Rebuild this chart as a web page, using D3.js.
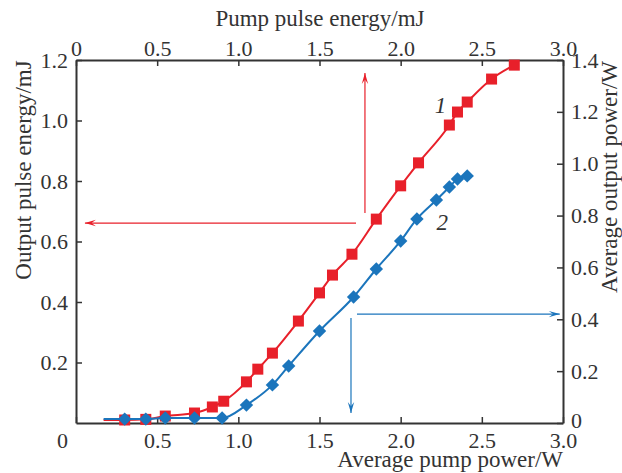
<!DOCTYPE html>
<html>
<head>
<meta charset="utf-8">
<script src="https://cdn.jsdelivr.net/npm/d3@7"></script>
<style>
  html, body { margin: 0; padding: 0; background: #fff; }
  svg text { font-family: "Liberation Serif", "DejaVu Serif", serif; fill: #333; }
</style>
</head>
<body>
<svg id="chart" width="622" height="473"></svg>
<script>
// Pump power / pump pulse energy (shared abscissa, 0–3)
const pumpRed  = [0.30, 0.43, 0.55, 0.73, 0.84, 0.91, 1.05, 1.12, 1.21, 1.37, 1.50, 1.58, 1.70, 1.85, 2.00, 2.11, 2.30, 2.35, 2.41, 2.56, 2.70];
// Curve 1: output pulse energy, mJ (left axis)
const energyRed = [0.010, 0.012, 0.023, 0.033, 0.053, 0.072, 0.136, 0.178, 0.231, 0.337, 0.430, 0.489, 0.558, 0.674, 0.784, 0.860, 0.985, 1.028, 1.061, 1.137, 1.183];

const pumpBlue = [0.30, 0.43, 0.55, 0.73, 0.90, 1.05, 1.21, 1.31, 1.50, 1.71, 1.85, 2.00, 2.10, 2.22, 2.30, 2.35, 2.41];
// Curve 2: average output power, W (right axis)
const powerBlue = [0.015, 0.015, 0.019, 0.019, 0.019, 0.069, 0.147, 0.220, 0.355, 0.486, 0.594, 0.702, 0.787, 0.860, 0.910, 0.941, 0.953];

// Fitted curves start a little before the first measurement
const curveFrom = 0.17;

const xTicks = [0, 0.5, 1.0, 1.5, 2.0, 2.5, 3.0];
const leftTicks = [0.2, 0.4, 0.6, 0.8, 1.0, 1.2];
const rightTicks = [0, 0.2, 0.4, 0.6, 0.8, 1.0, 1.2, 1.4];

const xTitleTop = "Pump pulse energy/mJ";
const xTitleBottom = "Average pump power/W";
const yTitleLeft = "Output pulse energy/mJ";
const yTitleRight = "Average output power/W";

const RED = "#e8202a";
const BLUE = "#1b75bc";
const AXIS = "#333";

const svg = d3.select("#chart");
const M = { left: 76, right: 563, top: 60, bottom: 423 };

const x = d3.scaleLinear().domain([0, 3]).range([M.left, M.right]);
const yL = d3.scaleLinear().domain([0, 1.2]).range([M.bottom, M.top]);
const yR = d3.scaleLinear().domain([0, 1.4]).range([M.bottom, M.top]);

const fmt = d => d === 0 ? "0" : d3.format(".1f")(d);
const FS = 22;   // tick labels
const TS = 23;   // axis titles

function styleAxis(g) {
  g.select(".domain").attr("stroke", AXIS).attr("stroke-width", 2);
  g.selectAll(".tick line").attr("stroke", AXIS).attr("stroke-width", 1.5);
  g.selectAll(".tick text").attr("font-size", FS).attr("fill", AXIS)
    .style("font-family", "'Liberation Serif', serif");
}

// Bottom axis (average pump power)
const gB = svg.append("g").attr("transform", `translate(0,${M.bottom})`)
  .call(d3.axisBottom(x).tickValues(xTicks).tickFormat(fmt).tickSizeInner(-6).tickSizeOuter(0).tickPadding(9));
styleAxis(gB);
gB.selectAll(".tick text").filter(d => d === 0).attr("dx", "-14");

// Top axis (pump pulse energy)
const gT = svg.append("g").attr("transform", `translate(0,${M.top})`)
  .call(d3.axisTop(x).tickValues(xTicks).tickFormat(fmt).tickSizeInner(-6).tickSizeOuter(0).tickPadding(4));
styleAxis(gT);

// Left axis (output pulse energy)
const gL = svg.append("g").attr("transform", `translate(${M.left},0)`)
  .call(d3.axisLeft(yL).tickValues(leftTicks).tickFormat(fmt).tickSizeInner(-6).tickSizeOuter(0).tickPadding(8));
styleAxis(gL);

// Right axis (average output power)
const gR = svg.append("g").attr("transform", `translate(${M.right},0)`)
  .call(d3.axisRight(yR).tickValues(rightTicks).tickFormat(fmt).tickSizeInner(-6).tickSizeOuter(0).tickPadding(8));
styleAxis(gR);
gR.selectAll(".tick text").filter(d => d === 0).attr("dy", "0.2em");

// Axis titles
svg.append("text").attr("x", 320).attr("y", 26)
  .attr("text-anchor", "middle").attr("font-size", TS).text(xTitleTop);
svg.append("text").attr("x", M.right).attr("y", 467)
  .attr("text-anchor", "end").attr("font-size", TS).text(xTitleBottom);
svg.append("text").attr("transform", `translate(31,170) rotate(-90)`)
  .attr("text-anchor", "middle").attr("font-size", TS).text(yTitleLeft);
svg.append("text").attr("transform", `translate(617,177) rotate(-90)`)
  .attr("text-anchor", "middle").attr("font-size", TS).text(yTitleRight);

// Curves
const redPts = pumpRed.map((p, i) => [p, energyRed[i]]);
const bluePts = pumpBlue.map((p, i) => [p, powerBlue[i]]);

const lineL = d3.line().x(d => x(d[0])).y(d => yL(d[1])).curve(d3.curveMonotoneX);
const lineR = d3.line().x(d => x(d[0])).y(d => yR(d[1])).curve(d3.curveMonotoneX);

svg.append("path").datum([[curveFrom, energyRed[0]], ...redPts])
  .attr("d", lineL).attr("fill", "none").attr("stroke", RED).attr("stroke-width", 2);
svg.selectAll("rect.sq").data(redPts).join("rect").attr("class", "sq")
  .attr("x", d => x(d[0]) - 5.5).attr("y", d => yL(d[1]) - 5.5)
  .attr("width", 11).attr("height", 11).attr("fill", RED);

svg.append("path").datum([[curveFrom, powerBlue[0]], ...bluePts])
  .attr("d", lineR).attr("fill", "none").attr("stroke", BLUE).attr("stroke-width", 2);
const diamond = d3.symbol().type(d3.symbolDiamond2).size(115);
svg.selectAll("path.dm").data(bluePts).join("path").attr("class", "dm")
  .attr("d", diamond)
  .attr("transform", d => `translate(${x(d[0])},${yR(d[1])})`)
  .attr("fill", BLUE);

// Curve labels
svg.append("text").attr("x", x(2.21)).attr("y", yL(1.025)).attr("font-size", TS)
  .attr("font-style", "italic").text("1");
svg.append("text").attr("x", x(2.22)).attr("y", yR(0.744)).attr("font-size", TS)
  .attr("font-style", "italic").text("2");

// Arrows that tie each curve to its axes
function arrow(x1, y1, x2, y2, color) {
  svg.append("line").attr("x1", x1).attr("y1", y1).attr("x2", x2).attr("y2", y2)
    .attr("stroke", color).attr("stroke-width", 1.2);
  const a = Math.atan2(y2 - y1, x2 - x1);
  const L = 11, W = 3.2;
  const bx = x2 - L * Math.cos(a), by = y2 - L * Math.sin(a);
  const px = -Math.sin(a) * W, py = Math.cos(a) * W;
  svg.append("path")
    .attr("d", `M${x2},${y2}L${bx + px},${by + py}L${x2 - 0.6 * L * Math.cos(a)},${y2 - 0.6 * L * Math.sin(a)}L${bx - px},${by - py}Z`)
    .attr("fill", color);
}
arrow(x(1.725), yL(0.661), x(0.055), yL(0.661), RED);
arrow(x(1.78), yL(0.694), x(1.78), yL(1.157), RED);
arrow(x(1.731), yR(0.420), x(2.98), yR(0.420), BLUE);
arrow(x(1.694), yR(0.405), x(1.694), yR(0.039), BLUE);
</script>
</body>
</html>
